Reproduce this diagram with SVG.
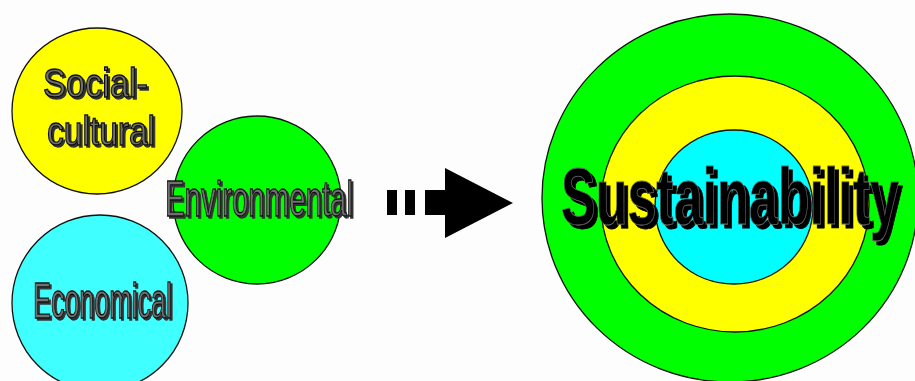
<svg xmlns="http://www.w3.org/2000/svg" width="915" height="381" viewBox="0 0 915 381">
<defs>
<filter id="shadow" x="-10%" y="-20%" width="130%" height="150%">
<feOffset in="SourceAlpha" dx="2" dy="2" result="off"/>
<feFlood flood-color="#333"/>
<feComposite in2="off" operator="in" result="sh"/>
<feMerge><feMergeNode in="sh"/><feMergeNode in="SourceGraphic"/></feMerge>
</filter>
<filter id="bigshadow" x="-10%" y="-20%" width="130%" height="150%">
<feOffset in="SourceAlpha" dx="4" dy="4" result="off"/>
<feFlood flood-color="#000"/>
<feComposite in2="off" operator="in" result="sh"/>
<feMerge><feMergeNode in="sh"/><feMergeNode in="SourceGraphic"/></feMerge>
</filter>
</defs>
<style>
.c{stroke:#111;stroke-width:1.3}
.lbl{font-family:"Liberation Sans",Arial,sans-serif;fill:#707070;stroke:#111;stroke-width:1.3;filter:url(#shadow);}
.big{font-family:"Liberation Sans",Arial,sans-serif;font-size:80px;font-weight:bold;fill:#000;stroke:#666;stroke-width:0.8;filter:url(#bigshadow);}
</style>
<rect width="915" height="381" fill="#fdfdfd"/>
<g id="social-cultural">
<ellipse class="c" cx="97" cy="111" rx="85" ry="83" fill="#ffff00"/>
<text class="lbl" font-size="40" x="43" y="97" textLength="105" lengthAdjust="spacingAndGlyphs">Social-</text>
<text class="lbl" font-size="40" x="47" y="145" textLength="108" lengthAdjust="spacingAndGlyphs">cultural</text>
</g>
<g id="economical">
<circle class="c" cx="100" cy="303" r="88" fill="#3fffff"/>
<text class="lbl" font-size="50" x="33" y="318" textLength="139" lengthAdjust="spacingAndGlyphs">Economical</text>
</g>
<g id="environmental">
<circle class="c" cx="257" cy="200" r="84" fill="#00ff00"/>
<text class="lbl" font-size="50" x="165" y="216" textLength="188" lengthAdjust="spacingAndGlyphs">Environmental</text>
</g>
<g id="connectors">
<rect x="387" y="190" width="10" height="25" fill="#000"/>
<rect x="405" y="190" width="10" height="25" fill="#000"/>
<polygon points="425,190 445,190 445,168 513,203 445,238 445,215 425,215" fill="#000"/>
</g>
<g id="sustainability">
<ellipse class="c" cx="730" cy="198" rx="188" ry="184" fill="#00ff00"/>
<ellipse class="c" cx="735" cy="204" rx="134" ry="128" fill="#ffff00"/>
<ellipse class="c" cx="734" cy="207" rx="79" ry="77" fill="#00ffff"/>
<text class="big" x="561" y="224" textLength="338" lengthAdjust="spacingAndGlyphs">Sustainability</text>
</g>
</svg>
